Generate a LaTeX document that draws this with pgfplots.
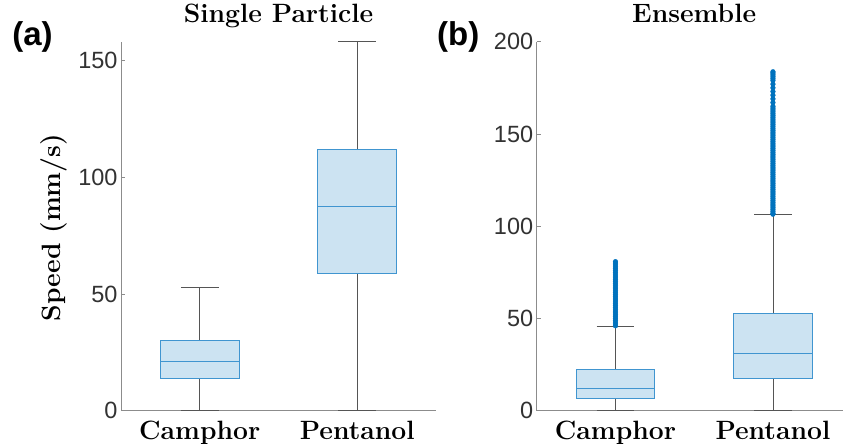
\documentclass[border=0pt]{standalone}
\usepackage{pgfplots}
\pgfplotsset{compat=1.18}
\usepackage{fontspec}
\newfontfamily\arial{Liberation Sans}
\definecolor{mblue}{RGB}{0,114,189}
\definecolor{mbedge}{RGB}{64,149,208}
\definecolor{mbfill}{RGB}{204,227,242}
\definecolor{whisk}{RGB}{85,85,85}
\definecolor{axgray}{RGB}{140,140,140}
\definecolor{tickgray}{RGB}{50,50,50}
\pgfplotsset{
  mystyle/.style={
    scale only axis, width=315pt, height=369pt,
    anchor=south west,
    axis x line*=bottom, axis y line*=left,
    axis line style={draw=axgray, line width=0.8pt},
    xmin=0.5, xmax=2.5, ymin=0,
    xtick={1,2}, xticklabels={Camphor,Pentanol},
    xtick style={draw=none},
    ytick style={draw=axgray, line width=0.6pt},
    tick align=inside, major tick length=4pt,
    /pgf/number format/assume math mode=true,
    yticklabel style={font=\arial\fontsize{23.5}{26}\selectfont, text=tickgray},
    xticklabel style={font=\bfseries\fontsize{26.5}{30}\selectfont, text=black, anchor=base, yshift=-29pt},
    title style={font=\bfseries\fontsize{26.5}{30}\selectfont, at={(0.5,1)}, anchor=base, yshift=13.4pt},
    clip=false,
  },
  wh/.style={draw=whisk, line width=0.9pt, mark=none},
  bx/.style={draw=mbedge, fill=mbfill, line width=1pt, mark=none},
  md/.style={draw=mbedge, line width=1pt, mark=none},
  ol/.style={only marks, mark=*, mark size=2.4pt, mark options={draw=mblue, fill=mblue, line width=0.3pt}},
}
\begin{document}
\begin{tikzpicture}
\useasboundingbox (0pt,0pt) rectangle (843pt,444pt);
% (a) Single Particle
\begin{axis}[mystyle, at={(121pt,33.3pt)}, ymax=158.1, ytick={0,50,100,150},
  title={Single Particle}]
% Camphor: whiskers 0 / 52.9, quartiles 13.6 / 30.0, median 21.2
\addplot[wh] coordinates {(1,30.0) (1,52.9)};
\addplot[wh] coordinates {(1,0) (1,13.6)};
\addplot[wh] coordinates {(0.88,52.9) (1.12,52.9)};
\addplot[wh] coordinates {(0.88,0) (1.12,0)};
\addplot[bx] coordinates {(0.75,13.6) (1.25,13.6) (1.25,30.0) (0.75,30.0)} -- cycle;
\addplot[md] coordinates {(0.75,21.2) (1.25,21.2)};
% Pentanol: whiskers 0.2 / 158.0, quartiles 58.6 / 112.0, median 87.3
\addplot[wh] coordinates {(2,112.0) (2,158.0)};
\addplot[wh] coordinates {(2,0.2) (2,58.6)};
\addplot[wh] coordinates {(1.88,158.0) (2.12,158.0)};
\addplot[wh] coordinates {(1.88,0.2) (2.12,0.2)};
\addplot[bx] coordinates {(1.75,58.6) (2.25,58.6) (2.25,112.0) (1.75,112.0)} -- cycle;
\addplot[md] coordinates {(1.75,87.3) (2.25,87.3)};
\end{axis}
% (b) Ensemble
\begin{axis}[mystyle, at={(536.7pt,33.3pt)}, ymax=200, ytick={0,50,100,150,200},
  title={Ensemble}]
% Camphor: whiskers 0 / 45.7, quartiles 6.4 / 22.1, median 12.3
\addplot[wh] coordinates {(1,22.1) (1,45.7)};
\addplot[wh] coordinates {(1,0) (1,6.4)};
\addplot[wh] coordinates {(0.88,45.7) (1.12,45.7)};
\addplot[wh] coordinates {(0.88,0) (1.12,0)};
\addplot[bx] coordinates {(0.75,6.4) (1.25,6.4) (1.25,22.1) (0.75,22.1)} -- cycle;
\addplot[md] coordinates {(0.75,12.3) (1.25,12.3)};
\addplot[ol] table[row sep=\\] {
  x y\\ 1 46\\ 1 47\\ 1 48\\ 1 49\\ 1 50\\ 1 51\\ 1 52\\ 1 53\\ 1 54\\ 1 55\\ 1 56\\ 1 57\\ 1 58\\ 1 59\\ 1 60\\
  1 61\\ 1 62\\ 1 63\\ 1 64\\ 1 65\\ 1 66\\ 1 67\\ 1 68\\ 1 69\\ 1 70\\ 1 71\\ 1 72\\ 1 73\\ 1 74\\ 1 75\\
  1 76\\ 1 77\\ 1 78\\ 1 79\\ 1 80\\ 1 80.8\\
  };
% Pentanol: whiskers 0.2 / 106.2, quartiles 17.2 / 52.6, median 30.8
\addplot[wh] coordinates {(2,52.6) (2,106.2)};
\addplot[wh] coordinates {(2,0.2) (2,17.2)};
\addplot[wh] coordinates {(1.88,106.2) (2.12,106.2)};
\addplot[wh] coordinates {(1.88,0.2) (2.12,0.2)};
\addplot[bx] coordinates {(1.75,17.2) (2.25,17.2) (2.25,52.6) (1.75,52.6)} -- cycle;
\addplot[md] coordinates {(1.75,30.8) (2.25,30.8)};
\addplot[ol] table[row sep=\\] {
  x y\\ 2 106.5\\ 2 107\\ 2 108\\ 2 109\\ 2 110\\ 2 111\\ 2 112\\ 2 113\\ 2 114\\ 2 115\\ 2 116\\ 2 117\\ 2 118\\ 2 119\\ 2 120\\
  2 121\\ 2 122\\ 2 123\\ 2 124\\ 2 125\\ 2 126\\ 2 127\\ 2 128\\ 2 129\\ 2 130\\ 2 131\\ 2 132\\ 2 133\\ 2 134\\ 2 135\\
  2 136\\ 2 137\\ 2 138\\ 2 139\\ 2 140\\ 2 141\\ 2 142\\ 2 143\\ 2 144\\ 2 145\\ 2 146\\ 2 147\\ 2 148\\ 2 149\\ 2 150\\
  2 151\\ 2 152\\ 2 153\\ 2 154\\ 2 155\\ 2 156\\ 2 157\\ 2 158\\ 2 159\\ 2 160\\ 2 161\\ 2 162\\ 2 163\\ 2 164\\ 2 165\\
  2 167\\ 2 169\\ 2 171\\ 2 173\\ 2 175\\ 2 177\\ 2 179\\ 2 180\\ 2 181\\ 2 182\\ 2 183\\ 2 183.7\\
  };
\end{axis}
% y label and panel letters
\node[rotate=90, anchor=base, font=\bfseries\fontsize{26.5}{30}\selectfont] at (60pt,216.5pt) {Speed (mm/s)};
\node[font=\arial\bfseries\fontsize{33}{36}\selectfont] at (32.5pt,407.3pt) {(a)};
\node[font=\arial\bfseries\fontsize{33}{36}\selectfont] at (458.3pt,407.3pt) {(b)};
\end{tikzpicture}
\end{document}
